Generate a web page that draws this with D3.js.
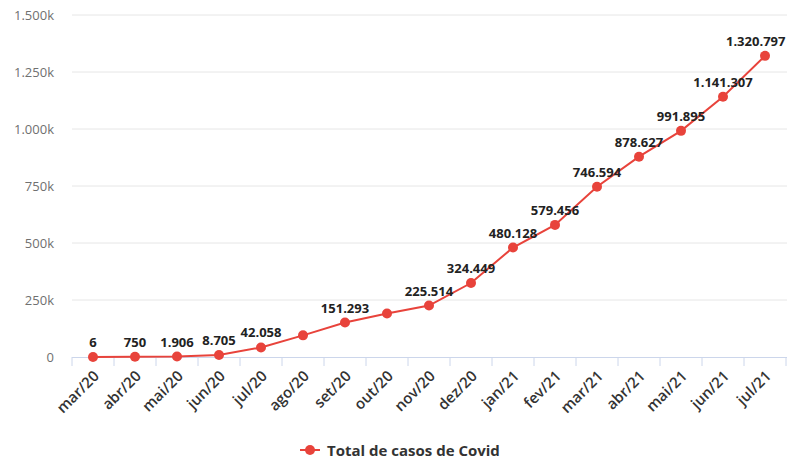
<!DOCTYPE html>
<html><head><meta charset="utf-8">
<script src="https://cdn.jsdelivr.net/npm/d3@7"></script>
<style>body{margin:0;background:#fff;font-family:"Open Sans",sans-serif}</style>
</head><body><svg id="c" width="787" height="460"></svg>
<script>
const categories = ["mar/20","abr/20","mai/20","jun/20","jul/20","ago/20","set/20","out/20","nov/20","dez/20","jan/21","fev/21","mar/21","abr/21","mai/21","jun/21","jul/21"];
const values = [6,750,1906,8705,42058,95000,151293,191000,225514,324449,480128,579456,746594,878627,991895,1141307,1320797];
const showLabel = [true,true,true,true,true,false,true,false,true,true,true,true,true,true,true,true,true];
const yTicks = [0,250000,500000,750000,1000000,1250000,1500000];
const yTickLabels = ["0","250k","500k","750k","1.000k","1.250k","1.500k"];
const seriesName = "Total de casos de Covid";

(function(){
const svg = d3.select("#c");
const mLeft = 72, mRight = 786, mTop = 15, mBottom = 357;
const x = d3.scaleBand().domain(categories).range([mLeft, mRight]);
const y = d3.scaleLinear().domain([0,1500000]).range([mBottom, mTop]);
const fmt = v => d3.format(",")(v).replace(/,/g, ".");
const red = "#e8433b";
const cx = i => x(categories[i]) + x.bandwidth()/2;

svg.append("g").selectAll("line").data(yTicks.slice(1)).join("line")
  .attr("x1", mLeft).attr("x2", 787).attr("y1", d=>y(d)).attr("y2", d=>y(d))
  .attr("stroke", "#e6e6e6").attr("stroke-width", 1);
svg.append("g").selectAll("text").data(yTicks).join("text")
  .attr("x", 54).attr("y", d=>y(d)+4.5).attr("text-anchor","end")
  .attr("font-size", 13).attr("fill", "#707070").text((d,i)=>yTickLabels[i]);

const xa = svg.append("g").attr("transform", `translate(0,${mBottom})`)
  .call(d3.axisBottom(x).tickSizeOuter(0).tickSize(0));
xa.select(".domain").attr("stroke", "#ccd6eb").attr("d", `M${mLeft},0.5H787`);
xa.selectAll(".tick text").remove();
svg.append("g").selectAll("line").data(categories.concat(["__end"])).join("line")
  .attr("x1", (d,i)=> mLeft + i*x.step()).attr("x2", (d,i)=> mLeft + i*x.step())
  .attr("y1", mBottom).attr("y2", mBottom+9).attr("stroke","#ccd6eb");
svg.append("g").selectAll("text").data(categories).join("text")
  .attr("transform", d=>`translate(${x(d)+x.bandwidth()/2+7},${mBottom+20}) rotate(-45)`)
  .attr("text-anchor","end").attr("font-size", 15).attr("font-weight", 600)
  .attr("fill","#333").text(d=>d);

const line = d3.line().x((d,i)=>cx(i)).y(d=>y(d));
svg.append("path").datum(values).attr("d", line).attr("fill","none")
  .attr("stroke", red).attr("stroke-width", 2);
svg.append("g").selectAll("circle").data(values).join("circle")
  .attr("cx",(d,i)=>cx(i)).attr("cy", d=>y(d))
  .attr("r", 5).attr("fill", red);
const labels = svg.append("g").selectAll("text").data(values.map((v,i)=>({v,i})).filter(d=>showLabel[d.i])).join("text")
  .attr("x", d=>cx(d.i)).attr("y", d=>y(d.v)-10)
  .attr("text-anchor","middle").attr("font-size", 13).attr("font-weight", 700)
  .attr("fill","#222").text(d=>fmt(d.v));
labels.each(function(){
  const b = this.getBBox();
  if (b.x + b.width > 786) d3.select(this).attr("x", +d3.select(this).attr("x") - (b.x + b.width - 786));
});

const lg = svg.append("g").attr("transform","translate(300,450)");
lg.append("line").attr("x1",0).attr("x2",20).attr("y1",0).attr("y2",0).attr("stroke",red).attr("stroke-width",2);
lg.append("circle").attr("cx",10).attr("cy",0).attr("r",5).attr("fill",red);
lg.append("text").attr("x",27).attr("y",5.5).attr("font-size",15).attr("font-weight",700).attr("fill","#333").text(seriesName);
})();
</script></body></html>
